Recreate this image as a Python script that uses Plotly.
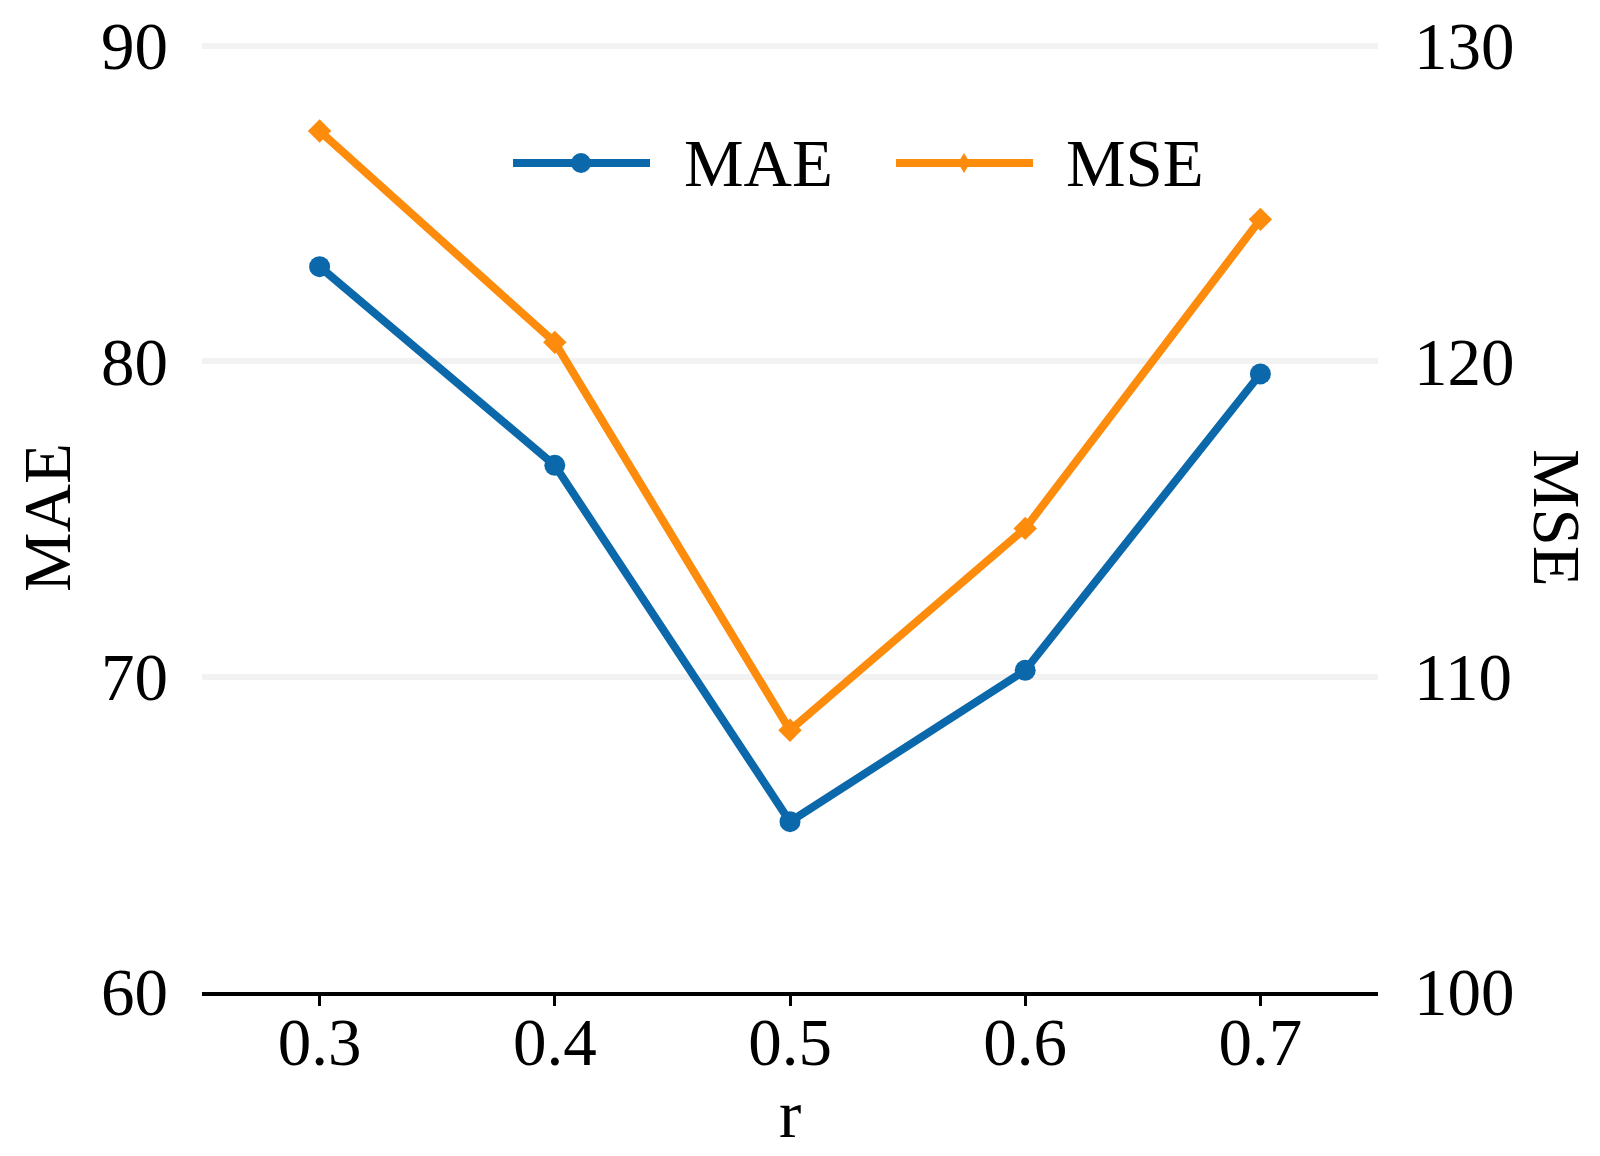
import plotly.graph_objects as go

r_values = [0.3, 0.4, 0.5, 0.6, 0.7]
mae_values = [83.0, 76.7, 65.4, 70.2, 79.6]
mse_values = [127.3, 120.6, 108.3, 114.7, 124.5]
x_ticks = [0.3, 0.4, 0.5, 0.6, 0.7]
x_tick_labels = ["0.3", "0.4", "0.5", "0.6", "0.7"]
mae_ticks = [60, 70, 80, 90]
mse_ticks = [100, 110, 120, 130]
series_names = ["MAE", "MSE"]

BLUE = "#0b68aa"
ORANGE = "#fd8b0c"
FONT = "Liberation Serif, Times New Roman, Tinos, serif"
FS = 67

# plot area in pixels
L, R, T, B = 202, 222, 44, 164
W, H = 1600, 1156
PW, PH = W - L - R, H - T - B


def px(x):
    return (x - L) / PW


def py(y):
    return (H - B - y) / PH


fig = go.Figure()
fig.add_trace(go.Scatter(
    x=r_values, y=mae_values, name=series_names[0], mode="lines+markers",
    line=dict(color=BLUE, width=8),
    marker=dict(symbol="circle", size=21, color=BLUE),
    yaxis="y", showlegend=False,
))
fig.add_trace(go.Scatter(
    x=r_values, y=mse_values, name=series_names[1], mode="lines+markers",
    line=dict(color=ORANGE, width=8),
    marker=dict(symbol="diamond", size=18, color=ORANGE),
    yaxis="y2", showlegend=False,
))

# custom legend (long line samples like the reference)
leg_y = py(163)
shapes = [
    dict(type="line", xref="paper", yref="paper", x0=px(513), x1=px(650),
         y0=leg_y, y1=leg_y, line=dict(color=BLUE, width=8)),
    dict(type="circle", xref="paper", yref="paper", xsizemode="pixel", ysizemode="pixel",
         xanchor=px(581), yanchor=leg_y, x0=-10, x1=10, y0=-10, y1=10,
         fillcolor=BLUE, line=dict(color=BLUE, width=0)),
    dict(type="line", xref="paper", yref="paper", x0=px(896), x1=px(1033),
         y0=leg_y, y1=leg_y, line=dict(color=ORANGE, width=8)),
    dict(type="path", xref="paper", yref="paper", xsizemode="pixel", ysizemode="pixel",
         xanchor=px(964), yanchor=leg_y, path="M0,10 L6,0 L0,-10 L-6,0 Z",
         fillcolor=ORANGE, line=dict(color=ORANGE, width=0)),
]
annotations = [
    dict(text=series_names[0], xref="paper", yref="paper", x=px(682), y=leg_y,
         xanchor="left", yanchor="middle", showarrow=False,
         font=dict(family=FONT, size=FS, color="black")),
    dict(text=series_names[1], xref="paper", yref="paper", x=px(1064), y=leg_y,
         xanchor="left", yanchor="middle", showarrow=False,
         font=dict(family=FONT, size=FS, color="black")),
    dict(text="MAE", xref="paper", yref="paper", x=0, xshift=47 - L, y=0.5,
         textangle=-90, showarrow=False, xanchor="center", yanchor="middle",
         font=dict(family=FONT, size=FS, color="black")),
    dict(text="MSE", xref="paper", yref="paper", x=1, xshift=1557 - (W - R), y=0.5,
         textangle=90, showarrow=False, xanchor="center", yanchor="middle",
         font=dict(family=FONT, size=FS, color="black")),
    dict(text="r", xref="paper", yref="paper", x=0.5, y=0, yshift=-(1114 - (H - B)),
         showarrow=False, xanchor="center", yanchor="middle",
         font=dict(family=FONT, size=FS, color="black")),
]

fig.update_layout(
    width=W, height=H,
    margin=dict(l=L, r=R, t=T, b=B, autoexpand=False),
    paper_bgcolor="white", plot_bgcolor="white",
    font=dict(family=FONT, size=FS, color="black"),
    showlegend=False,
    shapes=shapes,
    annotations=annotations,
    xaxis=dict(
        range=[0.25, 0.75], tickvals=x_ticks, ticktext=x_tick_labels,
        showgrid=False, zeroline=False, automargin=False,
        showline=True, linecolor="black", linewidth=4,
        ticks="outside", ticklen=10, tickwidth=3, tickcolor="black",
        ticklabelstandoff=-21,
        tickfont=dict(family=FONT, size=FS),
    ),
    yaxis=dict(
        range=[60, 90.06], tickvals=mae_ticks,
        showgrid=True, gridcolor="#f2f2f2", gridwidth=6,
        zeroline=False, showline=False, ticks="", automargin=False,
        ticklabelstandoff=33,
        tickfont=dict(family=FONT, size=FS),
    ),
    yaxis2=dict(
        range=[100, 130.06], tickvals=mse_ticks, overlaying="y", side="right",
        showgrid=False, zeroline=False, showline=False, ticks="", automargin=False,
        ticklabelstandoff=35,
        tickfont=dict(family=FONT, size=FS),
    ),
)

fig.write_html(
    "out.html",
    config={"displayModeBar": False},
    post_script="document.body.style.margin='0';document.body.style.padding='0';",
)
